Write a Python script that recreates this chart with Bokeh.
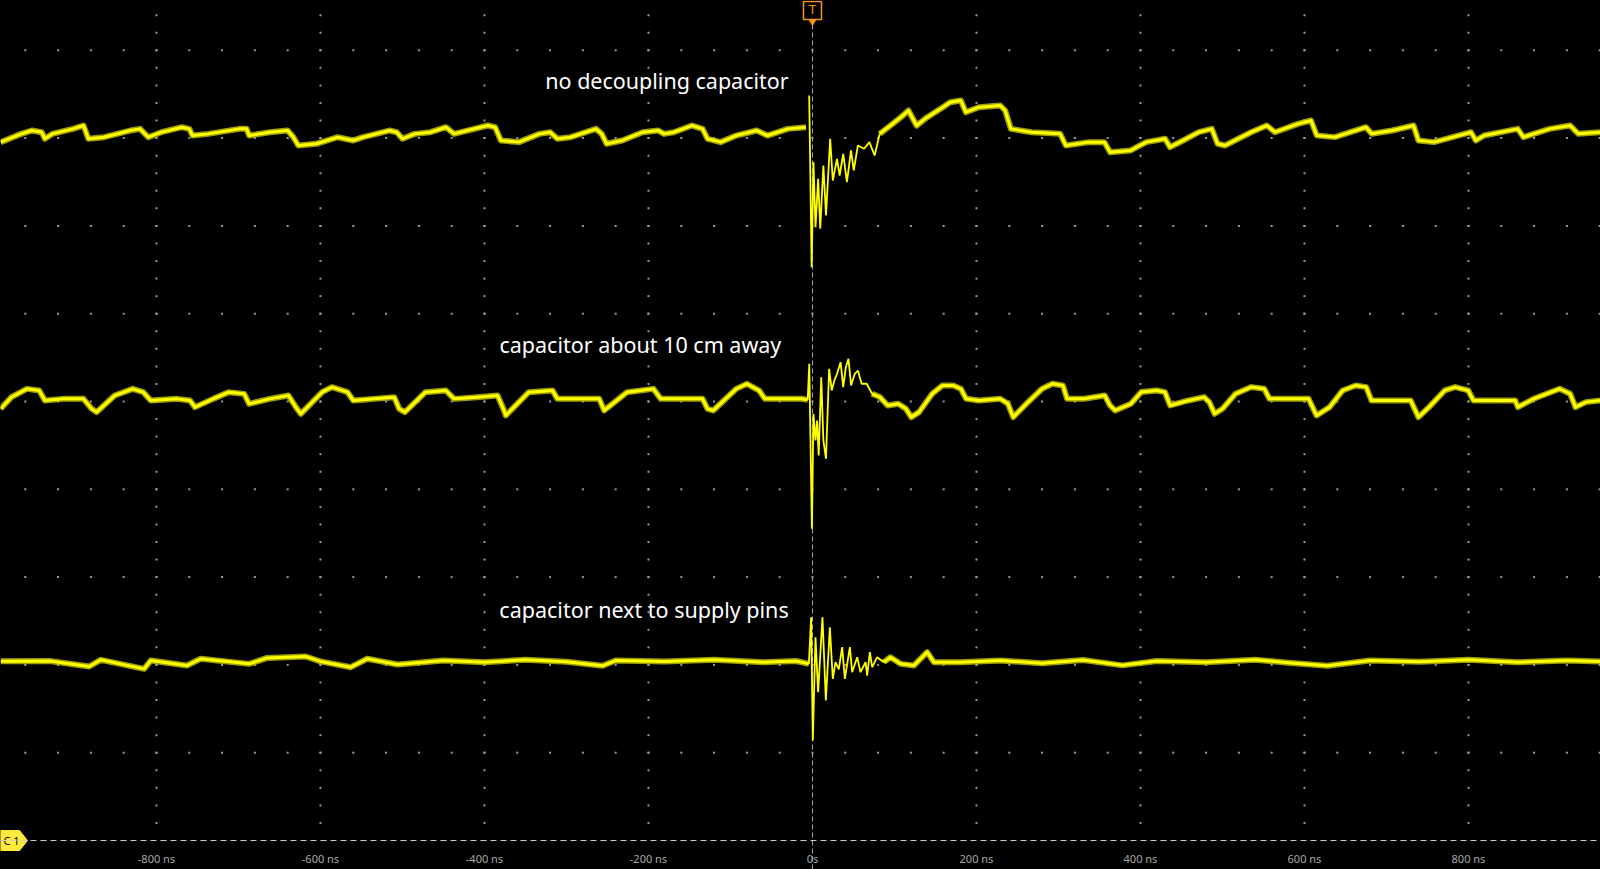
import numpy as np
from bokeh.plotting import figure
from bokeh.models import Span
from bokeh.core.properties import value
from bokeh.embed import file_html
from bokeh.resources import INLINE

# ---------------- data (time in ns, level in screen divisions) ----------------
t1 = [-990, -965, -952, -940, -936, -927, -902, -889, -883, -864, -832, -820, -810, -794,
      -769, -760, -756, -737, -699, -690, -687, -662, -640, -633, -627, -605, -579, -560,
      -548, -516, -507, -500, -485, -466, -447, -437, -421, -396, -387, -380, -358, -333,
      -320, -311, -295, -264, -257, -251, -232, -207, -188, -181, -169, -147, -134, -128,
      -112, -93, -68, -55, -30, -8, -4, -1, 1.2, 3.7, 6.9, 9.5, 13.3, 16.5, 21.6, 24.8,
      29.9, 33.1, 37.5, 42, 47, 50.3, 55.4, 63, 69.4, 75.8, 82, 95, 108, 117, 127, 140,
      159, 168, 181, 187, 203, 229, 235, 242, 267, 302, 309, 337, 356, 363, 388, 407,
      430, 436, 452, 471, 487, 494, 503, 535, 554, 564, 592, 608, 615, 637, 675, 682,
      707, 733, 739, 758, 803, 809, 819, 860, 867, 899, 924, 934, 961]
v1 = [7.954, 8.048, 8.086, 8.067, 7.992, 8.048, 8.105, 8.143, 7.992, 8.010, 8.086, 8.105,
      8.010, 8.067, 8.124, 8.105, 8.029, 8.048, 8.105, 8.105, 8.029, 8.067, 8.086, 8.010,
      7.916, 7.935, 8.010, 7.973, 8.010, 8.086, 8.067, 7.992, 8.048, 8.067, 8.124, 8.048,
      8.086, 8.143, 8.124, 7.973, 7.954, 8.048, 8.067, 7.992, 8.010, 8.105, 8.048, 7.935,
      7.973, 8.067, 8.086, 8.048, 8.067, 8.143, 8.105, 7.992, 7.954, 8.029, 8.086, 8.029,
      8.105, 8.124, 8.485, 6.530, 7.726, 6.986, 7.536, 6.967, 7.688, 7.118, 7.992, 7.517,
      7.764, 7.574, 7.821, 7.498, 7.859, 7.631, 7.916, 7.878, 7.954, 7.802, 8.049, 8.143,
      8.238, 8.314, 8.143, 8.238, 8.352, 8.409, 8.428, 8.295, 8.352, 8.371, 8.314, 8.105,
      8.067, 8.049, 7.916, 7.954, 7.954, 7.840, 7.859, 7.954, 7.992, 7.897, 7.973, 8.067,
      8.105, 7.935, 7.916, 8.067, 8.143, 8.067, 8.162, 8.200, 8.030, 8.011, 8.124, 8.049,
      8.086, 8.143, 7.973, 7.954, 8.067, 7.973, 8.030, 8.105, 8.011, 8.105, 8.143, 8.049,
      8.067]

t2 = [-990, -977, -958, -943, -936, -914, -889, -879, -873, -851, -829, -816, -807, -775,
      -759, -753, -731, -712, -693, -687, -662, -639, -630, -624, -598, -586, -567, -560,
      -535, -510, -504, -497, -472, -447, -437, -409, -384, -377, -374, -346, -317, -311,
      -283, -260, -254, -226, -194, -185, -156, -134, -128, -121, -93, -80, -65, -58, -30,
      -13.5, -5.8, -3.9, -0.7, 1.2, 3.7, 5.6, 7.6, 10.7, 13.3, 16.5, 20.3, 23.5, 26.7,
      29.9, 34.3, 37.5, 40.7, 43.9, 47.1, 51.6, 55.4, 59.9, 66.2, 72.6, 82.2, 91.7, 104.5,
      114, 120.5, 130, 146, 158.7, 171.5, 181, 187.4, 203.4, 229, 238.4, 244.8, 260.8, 280,
      292.7, 305.4, 310.5, 331, 356.4, 362.8, 369.2, 388.3, 401, 420, 429.8, 436.2, 458.5,
      477.6, 484, 490.4, 500, 516, 535, 551, 557.3, 579.7, 605, 614.7, 630.7, 646.6, 662.6,
      675.3, 681.7, 707.2, 729.5, 739, 751.9, 771, 783.8, 799.7, 806, 834.8, 857, 860.3,
      879.4, 911.3, 924, 930.5, 943.2, 961]
v2 = [4.917, 5.049, 5.144, 5.125, 5.011, 5.030, 5.030, 4.917, 4.879, 5.068, 5.144, 5.106,
      5.011, 5.030, 5.011, 4.936, 5.030, 5.106, 5.087, 4.973, 5.030, 5.068, 4.936, 4.860,
      5.106, 5.163, 5.106, 5.011, 5.030, 5.049, 4.917, 4.879, 5.106, 5.125, 5.030, 5.049,
      5.068, 4.917, 4.841, 5.106, 5.125, 5.030, 5.030, 5.030, 4.898, 5.106, 5.144, 5.030,
      5.030, 5.030, 4.917, 4.898, 5.144, 5.201, 5.125, 5.030, 5.030,
      5.031, 5.019, 5.429, 3.550, 4.860, 4.556, 4.784, 4.385, 5.277, 4.556, 4.347, 5.372,
      5.126, 5.240, 5.315, 5.448, 5.164, 5.391, 5.486, 5.183, 5.315, 5.353, 5.202, 5.202,
      5.088, 5.050, 4.955, 4.974, 4.917, 4.822, 4.879, 5.088, 5.183, 5.183, 5.145, 5.031,
      5.012, 5.031, 4.974, 4.822, 4.974, 5.145, 5.202, 5.183, 5.031, 5.031, 5.069, 4.955,
      4.898, 4.974, 5.107, 5.126, 5.107, 4.955, 5.012, 5.050, 4.993, 4.860, 4.917, 5.088,
      5.164, 5.145, 5.031, 5.031, 5.031, 4.841, 4.936, 5.126, 5.183, 5.164, 5.012, 5.012,
      5.012, 4.822, 4.936, 5.126, 5.164, 5.126, 5.012, 5.012, 5.012, 4.936, 5.031, 5.145,
      5.088, 4.936, 4.993, 5.012]

t3 = [-990, -930, -882, -868, -815, -807, -763, -746, -687, -665, -618, -600, -563, -543,
      -506, -450, -400, -350, -300, -256, -240, -180, -120, -60, -20, -4.4, -1.6, 0.4, 3.7,
      6.9, 12.2, 16.3, 21.2, 24.8, 28.1, 32.1, 36.2, 39.5, 45.6, 48.4, 54.5, 58.6, 64.7,
      66.7, 70.0, 72.8, 78.9, 87.0, 95.1, 107.3, 123.6, 139.9, 148.0, 180.5, 229.3, 280,
      330, 378, 420, 480, 540, 580, 628, 680, 740, 800, 860, 920, 961]
v3 = [2.042, 2.045, 1.982, 2.058, 1.955, 2.050, 1.993, 2.070, 2.012, 2.080, 2.096, 2.040,
      1.974, 2.070, 2.005, 2.050, 2.030, 2.060, 2.035, 1.990, 2.050, 2.040, 2.060, 2.030,
      2.045, 2.012, 2.543, 1.139, 2.316, 1.689, 2.543, 1.594, 2.429, 1.841, 2.031, 1.950,
      2.202, 1.841, 2.202, 1.917, 2.088, 1.917, 2.031, 1.879, 2.145, 1.974, 2.088, 2.031,
      2.088, 2.012, 1.993, 2.145, 2.031, 2.031, 2.050, 2.020, 2.055, 1.995, 2.045, 2.030,
      2.060, 2.025, 1.990, 2.050, 2.035, 2.060, 2.030, 2.050, 2.040]

# ringing windows (ns) drawn as thin trace
ring1 = (-7, 82)
ring2 = (-5.8, 72.6)
ring3 = (-4.4, 87.0)

labels = ["no decoupling capacitor", "capacitor about 10 cm away", "capacitor next to supply pins"]
label_t = [-29, -38, -29]
label_v = [8.656, 5.649, 2.631]

tick_values = [-800, -600, -400, -200, 0, 200, 400, 600, 800]
tick_labels = ["-800 ns", "-600 ns", "-400 ns", "-200 ns", "0s", "200 ns", "400 ns", "600 ns", "800 ns"]

# ---------------- figure ----------------
W, H = 1600, 869
X0, X1 = -990.2, 961.0
Y0, Y1 = -0.330, 9.567
ns_per_px = (X1 - X0) / W
div_per_px = (Y1 - Y0) / H

p = figure(width=W, height=H, x_range=(X0, X1), y_range=(Y0, Y1),
           output_backend="svg", toolbar_location=None,
           background_fill_color="black", border_fill_color="black",
           min_border=0, outline_line_color=None)
p.axis.visible = False
p.grid.visible = False

# graticule dots
gx_minor = np.arange(-1000, 1001, 40)
gy_major = np.arange(1, 10)
row_x = np.repeat(gx_minor[None, :], len(gy_major), axis=0).ravel()
row_y = np.repeat(gy_major[:, None], len(gx_minor), axis=1).ravel()
gx_major = np.array([x for x in range(-1000, 1001, 200) if x != 0])
gy_minor = np.round(np.arange(0.2, 9.7, 0.2), 3)
col_x = np.repeat(gx_major[:, None], len(gy_minor), axis=1).ravel()
col_y = np.repeat(gy_minor[None, :], len(gx_major), axis=0).ravel()
p.scatter(np.concatenate([row_x, col_x]), np.concatenate([row_y, col_y]),
          marker="square", size=2, color="#9a9a9a", line_color=None)

top = Y1
# trigger line (starts below the trigger marker) and ground reference line
p.segment(x0=[0], y0=[Y0], x1=[0], y1=[top - 24 * div_per_px],
          line_color="#a8a8a8", line_dash="5 3", line_width=1)
p.add_layout(Span(location=0, dimension="width", line_color="#cfcfcf",
                  line_dash="6 4", line_width=1))


def draw_trace(t, v, ring):
    t = np.asarray(t, float)
    v = np.asarray(v, float)
    pre = t <= ring[0]
    post = t >= ring[1]
    mid = (t >= ring[0]) & (t <= ring[1])
    for m in (pre, post):
        p.line(t[m], v[m], line_color="#b8b800", line_width=6, line_alpha=0.85, line_join="round")
        p.line(t[m], v[m], line_color="#ffff00", line_width=3, line_join="round")
    p.line(t[mid], v[mid], line_color="#ffff00", line_width=1.8)


draw_trace(t1, v1, ring1)
draw_trace(t2, v2, ring2)
draw_trace(t3, v3, ring3)

# annotations
p.text(x=label_t, y=label_v, text=labels, text_color="white",
       text_font=value("Noto Sans"), text_font_size="21.5px",
       text_align="right", text_baseline="middle")

# time labels
p.text(x=tick_values, y=[-0.205] * len(tick_values), text=tick_labels,
       text_color="#a8a8a8", text_font=value("Noto Sans"), text_font_size="11px",
       text_align="center", text_baseline="middle")

# trigger marker "T"
bw = 9 * ns_per_px
p.quad(left=[-bw], right=[bw], top=[top - 1 * div_per_px], bottom=[top - 19 * div_per_px],
       fill_color="black", line_color="#f7941d", line_width=1.5)
p.scatter(x=[0], y=[top - 21 * div_per_px], marker="inverted_triangle", size=7,
          fill_color="#f7941d", line_color="#f7941d", line_width=1)
p.text(x=[0], y=[top - 9.5 * div_per_px], text=["T"], text_color="#f7941d",
       text_font=value("DejaVu Sans"), text_font_size="12px",
       text_align="center", text_baseline="middle")

# channel marker "C1"
xl = X0
cx = [xl, xl + 19 * ns_per_px, xl + 27 * ns_per_px, xl + 19 * ns_per_px, xl]
cy = [10 * div_per_px, 10 * div_per_px, 0, -10 * div_per_px, -10 * div_per_px]
p.patch(cx, cy, fill_color="#ffeb3b", line_color="#ffeb3b")
p.text(x=[xl + 11 * ns_per_px], y=[0], text=["C 1"], text_color="black",
       text_font=value("Noto Sans"), text_font_size="11px",
       text_align="center", text_baseline="middle")

html = file_html(p, INLINE)
html = html.replace("</head>",
                    "<style>html,body{margin:0;padding:0;background-color:#000000;overflow:hidden;}</style></head>", 1)
open("out.html", "w").write(html)
